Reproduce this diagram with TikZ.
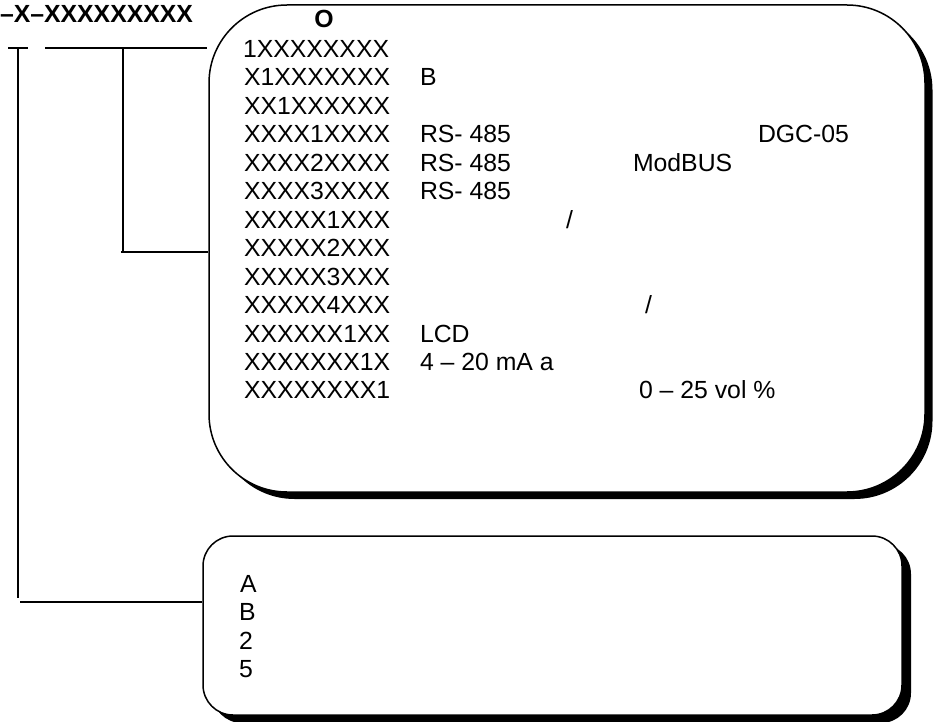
\documentclass[tikz,border=0pt]{standalone}
\usepackage{fontspec}
\setmainfont{Liberation Sans}
\usetikzlibrary{shadows}
\begin{document}
\begin{tikzpicture}[x=1pt,y=-1pt,
  conn/.style={line width=1.3pt, draw=black},
  txt/.style={anchor=base west, inner sep=0pt, outer sep=0pt, font=\fontsize{24.8}{28}\selectfont},
  bigbox/.style={draw=black, line width=1.5pt, fill=white, rounded corners=78pt,
     drop shadow={shadow xshift=7.5pt, shadow yshift=-7pt, fill=black, opacity=1},
     minimum width=716pt, minimum height=487pt, inner sep=0pt},
  smallbox/.style={draw=black, line width=1.5pt, fill=white, rounded corners=30pt,
     drop shadow={shadow xshift=9pt, shadow yshift=-8pt, fill=black, opacity=1},
     minimum width=699pt, minimum height=179pt, inner sep=0pt}]
\useasboundingbox (0,0) rectangle (935,722);

% boxes
\node[bigbox] (main) at (567,248.5) {};
\node[smallbox] (opt) at (552.5,625.5) {};

% title
\node[txt, font=\fontsize{24.8}{28}\selectfont\bfseries] (title) at (0,23) {–X–XXXXXXXXX};
\node[anchor=base, inner sep=0pt, font=\fontsize{24.8}{28}\selectfont\bfseries] (ohead) at (324,28) {O};

% connectors
\coordinate (tickL) at (8,48);
\coordinate (tickR) at (28,48);
\coordinate (tickM) at (18,48);
\coordinate (tickB) at (18,598);
\coordinate (optJ) at (20,602);
\draw[conn] (tickL) -- (tickR);
\draw[conn] (tickM) -- (tickB);
\draw[conn] (optJ) -- (optJ -| opt.west);

\coordinate (lineL) at (45,48);
\coordinate (lineR) at (207,48);
\coordinate (brT) at (123,48);
\coordinate (brB) at (123,252);
\draw[conn] (lineL) -- (lineR);
\draw[conn] (brT) -- (brB);
\draw[conn] (121,252) coordinate (brJ) -- (brJ -| main.west);

% main box rows
\node[txt] (r1) at (243,57.5) {1XXXXXXXX};
\node[txt] (r2) at (244,85.95) {X1XXXXXXX};
\node[txt] (r3) at (244,114.4) {XX1XXXXXX};
\node[txt] (r4) at (244,142.85) {XXXX1XXXX};
\node[txt] (r5) at (244,171.3) {XXXX2XXXX};
\node[txt] (r6) at (244,199.75) {XXXX3XXXX};
\node[txt] (r7) at (244,228.2) {XXXXX1XXX};
\node[txt] (r8) at (244,256.65) {XXXXX2XXX};
\node[txt] (r9) at (244,285.1) {XXXXX3XXX};
\node[txt] (r10) at (244,313.55) {XXXXX4XXX};
\node[txt] (r11) at (244,342) {XXXXXX1XX};
\node[txt] (r12) at (244,370.45) {XXXXXXX1X};
\node[txt] (r13) at (244,398.9) {XXXXXXXX1};

\node[txt] (d2) at (420,85.95) {B};
\node[txt] (d4) at (420,142.85) {RS- 485};
\node[txt] (d4b) at (758,142.85) {DGC-05};
\node[txt] (d5) at (633,171.3) {ModBUS};
\node[txt] (d5a) at (420,171.3) {RS- 485};
\node[txt] (d6) at (420,199.75) {RS- 485};
\node[txt] (d7) at (566,228.2) {/};
\node[txt] (d10) at (645,313.55) {/};
\node[txt] (d11) at (420,342) {LCD};
\node[txt] (d12) at (420,370.45) {4 – 20 mA a};
\node[txt] (d13) at (639,398.9) {0 – 25 vol \%};

% option box rows
\node[txt] (oA) at (240,592) {A};
\node[txt] (oB) at (239,620.5) {B};
\node[txt] (o2) at (239,649) {2};
\node[txt] (o5) at (239,677.5) {5};
\end{tikzpicture}
\end{document}
